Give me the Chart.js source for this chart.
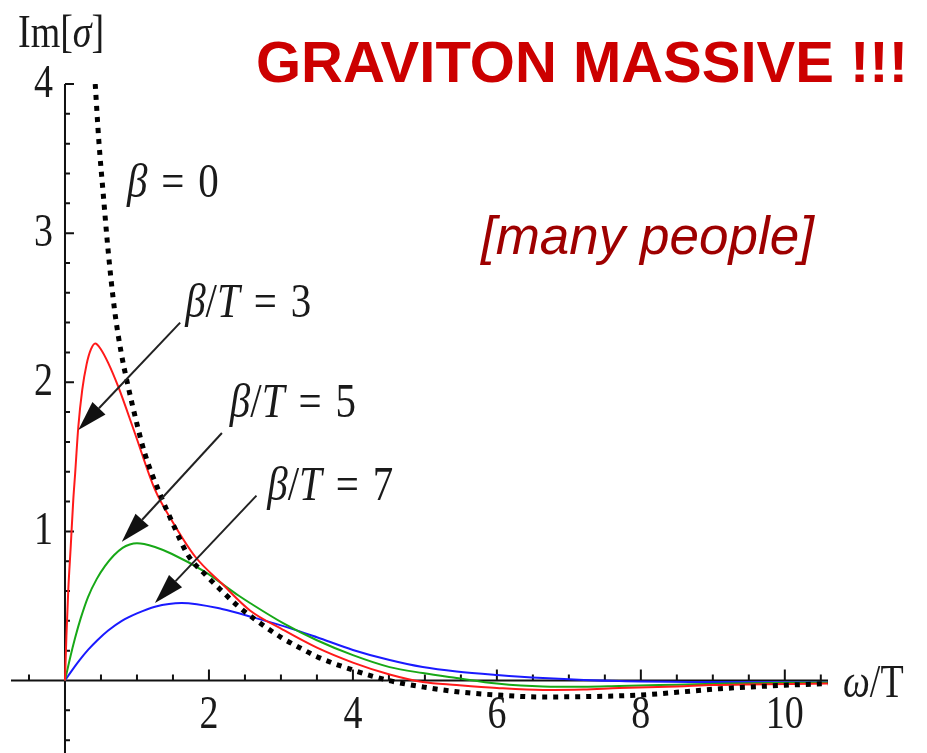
<!DOCTYPE html>
<html>
<head>
<meta charset="utf-8">
<title>Im[σ] vs ω/T</title>
<script src="https://cdn.jsdelivr.net/npm/chart.js@4.4.1/dist/chart.umd.min.js"></script>
<style>
    html, body { margin: 0; padding: 0; background: #fff; }
    canvas { display: block; }
</style>
</head>
<body>
<canvas id="sigmaChart" width="927" height="753"></canvas>
<script>
//beta = 0 (dotted)
const omegaB0 = [0.42, 0.47, 0.53, 0.6, 0.69, 0.78, 0.86, 1.0, 1.11, 1.32, 1.5, 1.71, 1.95, 2.18, 2.4, 2.64, 3.0, 3.3, 3.5, 4.0, 4.5, 5.0, 5.5, 6.0, 6.6, 7.2, 8.0, 8.6, 9.1, 10.0, 10.6];
const sigmaB0 = [4.0, 3.62, 3.27, 2.88, 2.48, 2.2, 2.01, 1.72, 1.52, 1.25, 1.05, 0.84, 0.71, 0.6, 0.5, 0.41, 0.29, 0.21, 0.16, 0.07, 0.0, -0.045, -0.078, -0.097, -0.11, -0.108, -0.097, -0.075, -0.055, -0.032, -0.02];

//beta/T = 3
const omegaB3 = [0, 0.02, 0.046, 0.08, 0.115, 0.14, 0.185, 0.24, 0.3, 0.36, 0.42, 0.5, 0.6, 0.74, 0.97, 1.25, 1.5, 1.81, 2.18, 2.57, 3.03, 3.5, 4.0, 4.51, 4.97, 5.44, 6.0, 6.64, 7.2, 7.7, 8.5, 9.0, 10.6];
const sigmaB3 = [0, 0.3, 0.61, 0.9, 1.21, 1.38, 1.7, 1.95, 2.12, 2.22, 2.26, 2.22, 2.13, 1.97, 1.66, 1.28, 1.06, 0.83, 0.65, 0.47, 0.34, 0.22, 0.12, 0.04, -0.01, -0.03, -0.05, -0.063, -0.06, -0.05, -0.04, -0.03, -0.02];

//beta/T = 5
const omegaB5 = [0, 0.07, 0.14, 0.22, 0.32, 0.44, 0.56, 0.68, 0.8, 0.9, 1.0, 1.1, 1.25, 1.48, 1.94, 2.41, 2.57, 3.03, 3.5, 4.0, 4.51, 4.97, 5.44, 6.0, 6.64, 7.2, 7.7, 8.5, 9.2, 10.6];
const sigmaB5 = [0, 0.15, 0.285, 0.42, 0.56, 0.68, 0.77, 0.84, 0.89, 0.912, 0.92, 0.915, 0.895, 0.85, 0.73, 0.57, 0.52, 0.385, 0.27, 0.17, 0.09, 0.05, 0.017, -0.02, -0.04, -0.042, -0.037, -0.028, -0.02, -0.014];

//beta/T = 7
const omegaB7 = [0, 0.1, 0.2, 0.32, 0.45, 0.6, 0.79, 1.0, 1.25, 1.62, 2.18, 2.64, 3.1, 3.5, 4.0, 4.51, 4.97, 5.44, 6.0, 6.64, 7.7, 9.0, 10.6];
const sigmaB7 = [0, 0.07, 0.135, 0.205, 0.27, 0.335, 0.4, 0.45, 0.495, 0.52, 0.48, 0.42, 0.355, 0.29, 0.205, 0.137, 0.09, 0.06, 0.037, 0.017, -0.004, -0.01, -0.012];

//Ejes
const xTickLabels = [2, 4, 6, 8, 10];
const yTickLabels = [1, 2, 3, 4];

//Flechas: cola -> punta (coordenadas de datos)
const arrowTails = [[1.6, 2.40], [2.18, 1.66], [2.66, 1.24]];
const arrowTips = [[0.185, 1.68], [0.79, 0.93], [1.25, 0.52]];

//Etiquetas de curvas
const curveLabels = ["β = 0", "β/T = 3", "β/T = 5", "β/T = 7"];
const curveLabelPos = [[0.86, 3.24], [1.67, 2.44], [2.29, 1.77], [2.81, 1.21]];

const SERIF = "'Liberation Serif', 'DejaVu Serif', serif";
const SANS = "'Liberation Sans', Arial, sans-serif";
const STRETCH = 1.2;

function toPoints(xs, ys) {
    return xs.map((x, i) => ({ x: x, y: ys[i] }));
}

//Texto estirado en vertical
function tallText(ctx, txt, x, y) {
    ctx.save();
    ctx.translate(x, y);
    ctx.scale(1, STRETCH);
    ctx.fillText(txt, 0, 0);
    ctx.restore();
}

//Texto con partes en cursiva (letras griegas, variables)
function drawMath(ctx, text, x, y, size, gap) {
    const parts = text.match(/\s+|[^\s]/g);
    parts.forEach(p => {
        if (/\s/.test(p)) {
            x += size * gap;
            return;
        }
        const italic = /[βσωT]/.test(p) && !(p === "T" && text.startsWith("ω"));
        ctx.font = (italic ? "italic " : "") + size + "px " + SERIF;
        tallText(ctx, p, x, y);
        x += ctx.measureText(p).width;
    });
}

function drawArrow(ctx, x1, y1, x2, y2) {
    const ang = Math.atan2(y2 - y1, x2 - x1);
    const len = 30, half = 9;
    const bx = x2 - len * Math.cos(ang), by = y2 - len * Math.sin(ang);
    ctx.beginPath();
    ctx.moveTo(x1, y1);
    ctx.lineTo(bx, by);
    ctx.stroke();
    ctx.beginPath();
    ctx.moveTo(x2, y2);
    ctx.lineTo(bx + half * Math.sin(ang), by - half * Math.cos(ang));
    ctx.lineTo(bx - half * Math.sin(ang), by + half * Math.cos(ang));
    ctx.closePath();
    ctx.fill();
}

//Ejes cruzando en el origen, con marcas hacia dentro
const axesPlugin = {
    id: "axesAtOrigin",
    beforeDatasetsDraw(chart) {
        const ctx = chart.ctx;
        const xs = chart.scales.x;
        const ys = chart.scales.y;
        const x0 = xs.getPixelForValue(0);
        const y0 = ys.getPixelForValue(0);

        ctx.save();
        ctx.strokeStyle = "#111";
        ctx.lineWidth = 2;
        ctx.beginPath();
        ctx.moveTo(xs.left, y0);
        ctx.lineTo(xs.right, y0);
        ctx.moveTo(x0, ys.top);
        ctx.lineTo(x0, ys.bottom);

        for (let i = -1; i <= 21; i++) {
            if (i === 0) continue;
            const v = i * 0.5;
            const px = xs.getPixelForValue(v);
            ctx.moveTo(px, y0);
            ctx.lineTo(px, y0 - (xTickLabels.includes(v) ? 11 : 6));
        }
        for (let i = -2; i <= 20; i++) {
            if (i === 0) continue;
            const py = ys.getPixelForValue(i * 0.2);
            ctx.moveTo(x0, py);
            ctx.lineTo(x0 + (i % 5 === 0 ? 9 : 5), py);
        }
        ctx.stroke();

        ctx.fillStyle = "#1a1a1a";
        ctx.font = "38px " + SERIF;
        ctx.textAlign = "center";
        xTickLabels.forEach(v => {
            tallText(ctx, String(v), xs.getPixelForValue(v), y0 + 47);
        });
        ctx.textAlign = "right";
        yTickLabels.forEach(v => {
            tallText(ctx, String(v), x0 - 12, ys.getPixelForValue(v) + 13);
        });

        ctx.textAlign = "left";
        drawMath(ctx, "Im[σ]", 18, 47, 38, 0);
        drawMath(ctx, "ω/T", 843, 697, 38, 0);
        ctx.restore();
    },
    afterDatasetsDraw(chart) {
        const ctx = chart.ctx;
        const xs = chart.scales.x;
        const ys = chart.scales.y;

        ctx.save();
        ctx.strokeStyle = "#222";
        ctx.fillStyle = "#111";
        ctx.lineWidth = 2;
        arrowTails.forEach((t, i) => {
            drawArrow(ctx,
                xs.getPixelForValue(t[0]), ys.getPixelForValue(t[1]),
                xs.getPixelForValue(arrowTips[i][0]), ys.getPixelForValue(arrowTips[i][1]));
        });

        ctx.fillStyle = "#1a1a1a";
        ctx.textAlign = "left";
        curveLabels.forEach((txt, i) => {
            drawMath(ctx, txt, xs.getPixelForValue(curveLabelPos[i][0]), ys.getPixelForValue(curveLabelPos[i][1]), 41, 0.34);
        });

        //Titulo
        ctx.fillStyle = "#cc0000";
        ctx.font = "bold 58px " + SANS;
        ctx.fillText("GRAVITON MASSIVE !!!", 256, 82);
        ctx.fillStyle = "#9e0000";
        ctx.font = "italic 53px " + SANS;
        ctx.fillText("[many people]", 481, 254);
        ctx.restore();
    }
};

const lineStyle = {
    pointRadius: 0,
    fill: false,
    cubicInterpolationMode: "monotone",
    borderWidth: 2
};

new Chart(document.getElementById("sigmaChart"), {
    type: "line",
    data: {
        datasets: [
            Object.assign({}, lineStyle, {
                label: "β = 0",
                data: toPoints(omegaB0, sigmaB0),
                borderColor: "#000",
                borderWidth: 5,
                borderDash: [5, 6],
                borderCapStyle: "butt"
            }),
            Object.assign({}, lineStyle, {
                label: "β/T = 3",
                data: toPoints(omegaB3, sigmaB3),
                borderColor: "#ff1a1a"
            }),
            Object.assign({}, lineStyle, {
                label: "β/T = 5",
                data: toPoints(omegaB5, sigmaB5),
                borderColor: "#17a817"
            }),
            Object.assign({}, lineStyle, {
                label: "β/T = 7",
                data: toPoints(omegaB7, sigmaB7),
                borderColor: "#1a1aff"
            })
        ]
    },
    options: {
        responsive: false,
        animation: false,
        events: [],
        layout: { padding: { left: 11, right: 99, top: 84, bottom: 0 } },
        plugins: {
            legend: { display: false },
            tooltip: { enabled: false }
        },
        scales: {
            x: { type: "linear", min: -0.75, max: 10.6, display: false },
            y: { type: "linear", min: -0.486, max: 4.0, display: false }
        }
    },
    plugins: [axesPlugin]
});
</script>
</body>
</html>
